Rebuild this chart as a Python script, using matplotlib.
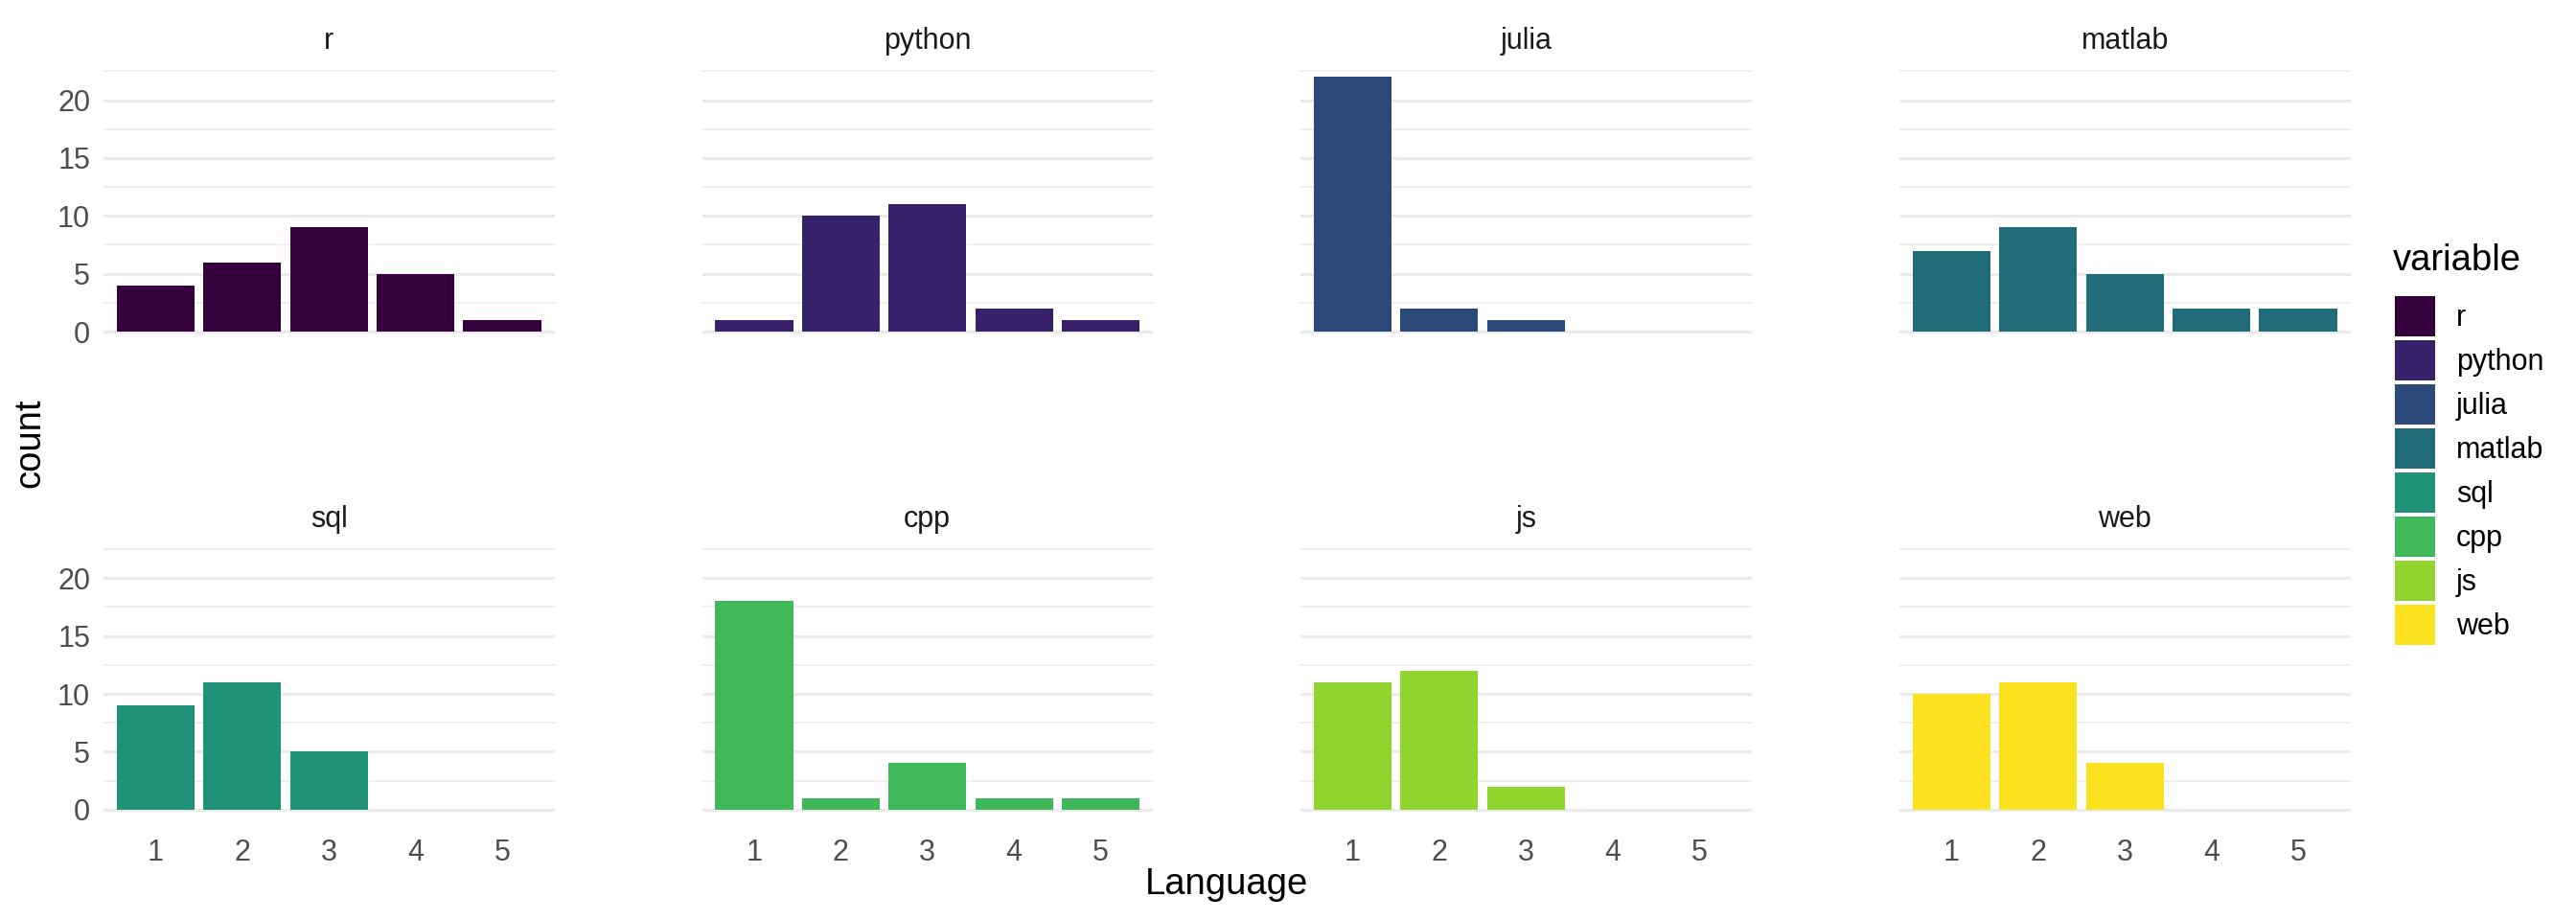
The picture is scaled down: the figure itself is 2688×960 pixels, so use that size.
import matplotlib
matplotlib.use("Agg")
import matplotlib.pyplot as plt
from matplotlib.patches import Patch

plt.rcParams['font.family'] = ['Liberation Sans', 'DejaVu Sans']

# ---- data ----
languages = ["r", "python", "julia", "matlab", "sql", "cpp", "js", "web"]
levels = [1, 2, 3, 4, 5]
r_counts = [4, 6, 9, 5, 1]
python_counts = [1, 10, 11, 2, 1]
julia_counts = [22, 2, 1, 0, 0]
matlab_counts = [7, 9, 5, 2, 2]
sql_counts = [9, 11, 5, 0, 0]
cpp_counts = [18, 1, 4, 1, 1]
js_counts = [11, 12, 2, 0, 0]
web_counts = [10, 11, 4, 0, 0]
counts = [r_counts, python_counts, julia_counts, matlab_counts,
          sql_counts, cpp_counts, js_counts, web_counts]
colors = ["#36003F", "#37216A", "#2B4A79", "#216C7B",
          "#1F9277", "#3FB85A", "#90D52E", "#FAE21E"]
y_major = [0, 5, 10, 15, 20]
y_minor = [2.5, 7.5, 12.5, 17.5, 22.5]

W, H = 2688, 960
DPI = 100
fig = plt.figure(figsize=(W / DPI, H / DPI), dpi=DPI)
fig.patch.set_facecolor("white")

panel_left = [108, 732.5, 1357, 1982]
panel_w = 470.5
row_top = [67.2, 565.9]
panel_h = 292.1

tick_fs = 22
strip_fs = 22
title_fs = 27.5

for i, (lang, vals, col) in enumerate(zip(languages, counts, colors)):
    r, c = divmod(i, 4)
    x0 = panel_left[c]
    y0 = row_top[r]
    ax = fig.add_axes([x0 / W, 1 - (y0 + panel_h) / H, panel_w / W, panel_h / H])
    ax.bar(levels, vals, width=0.9, color=col, zorder=3)
    ax.set_xlim(0.4, 5.6)
    ax.set_ylim(-1.1, 23.1)
    ax.set_yticks(y_major)
    ax.set_yticks(y_minor, minor=True)
    ax.set_xticks(levels)
    ax.grid(which="major", axis="y", color="#EBEBEB", lw=2.2, zorder=0)
    ax.grid(which="minor", axis="y", color="#EBEBEB", lw=1.1, zorder=0)
    ax.set_axisbelow(True)
    for s in ax.spines.values():
        s.set_visible(False)
    ax.tick_params(axis="both", which="both", length=0, labelsize=tick_fs,
                   labelcolor="#4D4D4D")
    ax.tick_params(axis="y", pad=10)
    ax.tick_params(axis="x", pad=12)
    if c != 0:
        ax.tick_params(axis="y", labelleft=False)
    if r != 1:
        ax.tick_params(axis="x", labelbottom=False)
    ax.set_facecolor("none")
    fig.text((x0 + panel_w / 2) / W, 1 - (y0 - 24) / H, lang,
             ha="center", va="center", fontsize=strip_fs, color="#1A1A1A")

fig.text(1280.5 / W, 1 - 923 / H, "Language", ha="center", va="center",
         fontsize=title_fs, color="black")
fig.text(31 / W, 1 - 462.5 / H, "count", ha="center", va="center",
         rotation=90, fontsize=title_fs, color="black")

# legend
fig.text(2497 / W, 1 - 272 / H, "variable", ha="left", va="center",
         fontsize=title_fs, color="black")
handles = [Patch(facecolor=c, edgecolor="none") for c in colors]
fs_px = tick_fs * DPI / 72
key_px = 42
hh = (key_px / fs_px - 0.245) / 0.65
leg = fig.legend(handles, languages, loc="upper left",
                 bbox_to_anchor=(2499 / W, 1 - 309 / H),
                 frameon=False, fontsize=tick_fs,
                 handlelength=key_px / fs_px, handleheight=hh,
                 labelspacing=4 / fs_px, handletextpad=22 / fs_px,
                 borderpad=0, borderaxespad=0)

fig.savefig("out.png", dpi=DPI)
